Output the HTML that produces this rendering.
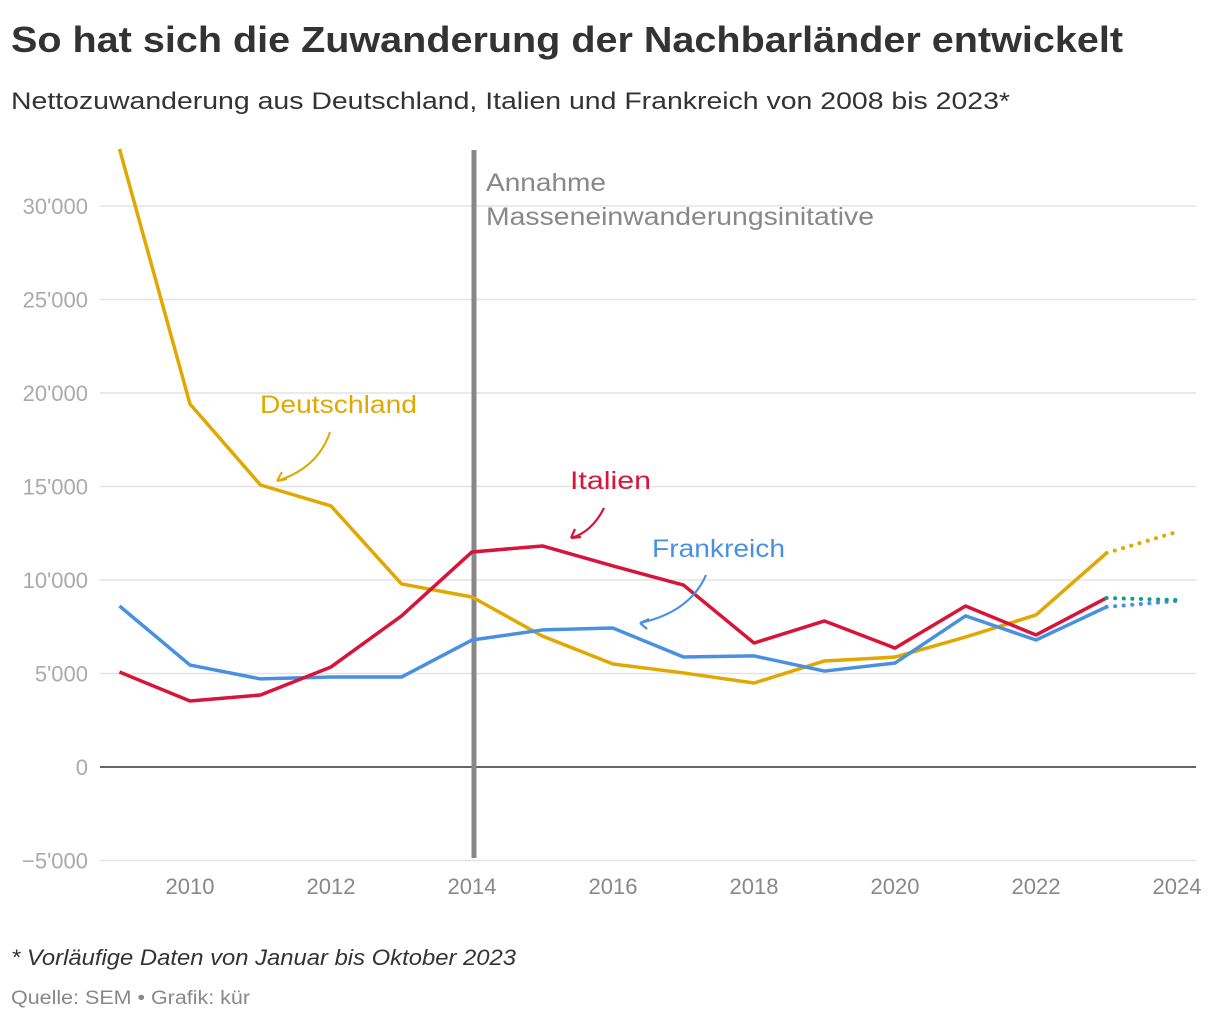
<!DOCTYPE html>
<html><head><meta charset="utf-8"><style>
body{margin:0;background:#fff}
svg{display:block;font-family:"Liberation Sans",sans-serif}
</style></head><body>
<svg id="chart" width="1220" height="1020" viewBox="0 0 1220 1020">
<text x="11" y="52" font-size="36" font-weight="bold" fill="#333" textLength="1112" lengthAdjust="spacingAndGlyphs">So hat sich die Zuwanderung der Nachbarländer entwickelt</text>
<text x="11" y="109" font-size="24" fill="#333" textLength="999" lengthAdjust="spacingAndGlyphs">Nettozuwanderung aus Deutschland, Italien und Frankreich von 2008 bis 2023*</text>
<g id="grid"></g>
<g id="xaxis"></g>
<line x1="474" y1="150" x2="474" y2="858" stroke="#888" stroke-width="5"/>
<text font-size="25" fill="#888"><tspan x="486" y="191" textLength="120" lengthAdjust="spacingAndGlyphs">Annahme</tspan><tspan x="486" y="225" textLength="388" lengthAdjust="spacingAndGlyphs">Masseneinwanderungsinitative</tspan></text>
<g id="series"></g>
<text x="260" y="413" font-size="25" fill="#e0a800" textLength="157" lengthAdjust="spacingAndGlyphs">Deutschland</text>
<path d="M330,432 Q318,468 277,481 M277,481 l10,-2 M277,481 l5,-9" stroke="#e0a800" stroke-width="2" fill="none"/>
<text x="570" y="489" font-size="25" fill="#d7153a" textLength="81" lengthAdjust="spacingAndGlyphs">Italien</text>
<path d="M604,508 Q592,532 571,538 M571,538 l10,-1 M571,538 l4,-9" stroke="#d7153a" stroke-width="2.2" fill="none"/>
<text x="652" y="557" font-size="25" fill="#4a90e2" textLength="133" lengthAdjust="spacingAndGlyphs">Frankreich</text>
<path d="M706,575 Q690,612 640,623 M640,623 l9,-4 M640,623 l7,6" stroke="#4a90e2" stroke-width="2.2" fill="none"/>
<text x="11" y="965" font-size="22" font-style="italic" fill="#333" textLength="505" lengthAdjust="spacingAndGlyphs">* Vorläufige Daten von Januar bis Oktober 2023</text>
<text x="11" y="1004" font-size="19" fill="#888" textLength="239" lengthAdjust="spacingAndGlyphs">Quelle: SEM • Grafik: kür</text>
</svg>
<script>
const years=[2009,2010,2011,2012,2013,2014,2015,2016,2017,2018,2019,2020,2021,2022,2023];
const deutschland=[33050,19410,15080,13960,9790,9090,7000,5510,5030,4490,5670,5880,6950,8130,11440];
const italien=[5080,3530,3850,5350,8080,11500,11820,10750,9730,6630,7810,6360,8610,7060,9040];
const frankreich=[8610,5450,4710,4810,4810,6790,7330,7430,5880,5940,5130,5560,8080,6790,8560];
const projYear=2024;
const deutschlandProj=12570, italienProj=8930, frankreichProj=8880;
const yTicks=[-5000,0,5000,10000,15000,20000,25000,30000];
const yTickLabels=["\u22125'000","0","5'000","10'000","15'000","20'000","25'000","30'000"];
const xTicks=[2010,2012,2014,2016,2018,2020,2022,2024];
const NS="http://www.w3.org/2000/svg";
const X=y=>190+(y-2010)*70.5;
const Y=v=>767-v*93.5/5000;
function mk(tag,attrs,parent){const e=document.createElementNS(NS,tag);for(const k in attrs)e.setAttribute(k,attrs[k]);parent.appendChild(e);return e;}
const grid=document.getElementById('grid');
yTicks.forEach((t,i)=>{
 const l=mk('line',{x1:100,x2:1196,y1:Y(t),y2:Y(t),stroke:t===0?'#333':'#e3e3e3','stroke-width':1.5},grid);
 
 
 const tx=mk('text',{x:88,y:Y(t)+8,'font-size':22,fill:'#aaa','text-anchor':'end'},grid);
 tx.textContent=yTickLabels[i];
 
 
});
const xa=document.getElementById('xaxis');
xTicks.forEach(t=>{
 const tx=mk('text',{x:X(t),y:894,'font-size':22,fill:'#888','text-anchor':'middle'},xa);
 tx.textContent=t;
 
 
});
const sg=document.getElementById('series');
function line(vals,proj,color,projColor,name){
 const pts=years.map((y,i)=>X(y)+','+Y(vals[i])).join(' ');
 const pl=mk('polyline',{points:pts,fill:'none',stroke:color,'stroke-width':3.5,'stroke-linejoin':'round'},sg);
 
 
 const last=years.length-1;
 const d=mk('line',{x1:X(years[last]),y1:Y(vals[last]),x2:X(projYear),y2:Y(proj),stroke:projColor,'stroke-width':4,'stroke-dasharray':'0.1 8.5','stroke-linecap':'round'},sg);
 
 
}
line(deutschland,deutschlandProj,'#e0a800','#e0a800','deutschland');
line(frankreich,frankreichProj,'#4a90e2','#4a90e2','frankreich');
line(italien,italienProj,'#d7153a','#129d8a','italien');
</script>
</body></html>
